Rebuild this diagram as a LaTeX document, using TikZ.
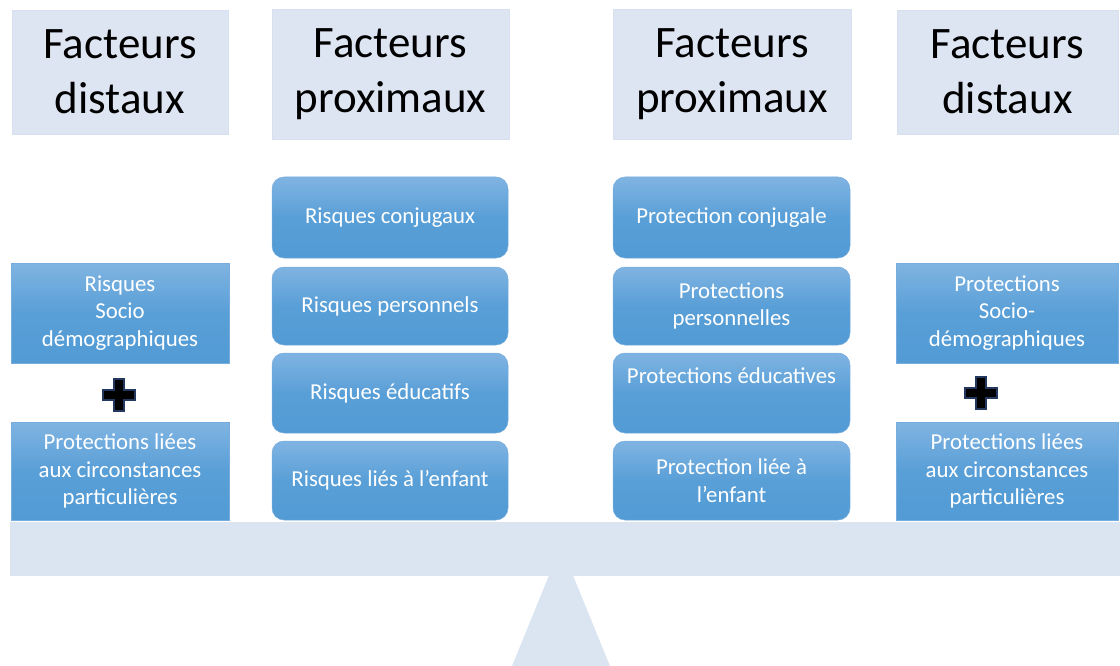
\documentclass[tikz,border=0pt]{standalone}
\usepackage{fontspec}
\setmainfont{Carlito}
\definecolor{headfill}{RGB}{222,229,242}
\definecolor{headline}{RGB}{214,224,240}
\definecolor{beamfill}{RGB}{219,229,241}
\definecolor{btop}{RGB}{128,180,226}
\definecolor{bbot}{RGB}{82,155,213}
\definecolor{bline}{RGB}{118,172,222}
\definecolor{plusline}{RGB}{35,55,95}
\tikzset{
  header/.style={fill=headfill, draw=headline, line width=0.6pt, inner sep=0pt,
    align=center, font=\fontsize{45}{55}\selectfont, text=black},
  bluebox/.style={top color=btop, bottom color=bbot, middle color=bbot!85!btop,
    draw=bline, line width=0.5pt, inner sep=0pt, align=center,
    font=\fontsize{22.8}{27.4}\selectfont, text=white},
  roundbox/.style={bluebox, rounded corners=12pt},
  plussign/.style={fill=black, draw=plusline, line width=1.6pt, line join=miter},
  scalepart/.style={fill=beamfill, draw=none}
}
\begin{document}
\begin{tikzpicture}[x=1pt,y=-1pt]
\useasboundingbox (0,0) rectangle (1120,666);
% fulcrum and beam
\fill[scalepart] (512,666) -- (561,546) -- (610,666) -- cycle;
\node[scalepart, minimum width=1110pt, minimum height=54pt, inner sep=0pt] (beam) at (565,549) {};
% headers
\node[header, minimum width=216pt, minimum height=124pt] (h1) at (120,72) {Facteurs\\distaux};
\node[header, minimum width=237pt, minimum height=130pt] (h2) at (390.5,74) {Facteurs\\proximaux};
\node[header, minimum width=238pt, minimum height=130pt] (h3) at (732,74) {Facteurs\\proximaux};
\node[header, minimum width=221pt, minimum height=124pt] (h4) at (1007.5,72) {Facteurs\\distaux};
% left distal
\node[bluebox, minimum width=218pt, minimum height=100pt] (l1) at (120,313) {Risques\\Socio\\démographiques};
\node[bluebox, minimum width=218pt, minimum height=98pt] (l2) at (120,471) {Protections liées\\aux circonstances\\particulières};
% right distal
\node[bluebox, minimum width=222pt, minimum height=100pt] (r1) at (1007,313) {Protections\\Socio-\\démographiques};
\node[bluebox, minimum width=222pt, minimum height=98pt] (r2) at (1007,471) {Protections liées\\aux circonstances\\particulières};
% left proximal
\node[roundbox, minimum width=236pt, minimum height=81pt] (a1) at (390,217.5) {Risques conjugaux};
\node[roundbox, minimum width=236pt, minimum height=78pt] (a2) at (390,306) {Risques personnels};
\node[roundbox, minimum width=236pt, minimum height=80pt] (a3) at (390,393) {Risques éducatifs};
\node[roundbox, minimum width=236pt, minimum height=79pt] (a4) at (390,480.5) {Risques liés à l’enfant};
% right proximal
\node[roundbox, minimum width=237pt, minimum height=81pt] (b1) at (731.5,217.5) {Protection conjugale};
\node[roundbox, minimum width=237pt, minimum height=78pt] (b2) at (731.5,306) {Protections\\personnelles};
\node[roundbox, minimum width=237pt, minimum height=80pt] (b3) at (731.5,393) {};
\node[font=\fontsize{22.8}{27.4}\selectfont, text=white, inner sep=0pt] (b3t) at (731.5,376) {Protections éducatives};
\node[roundbox, minimum width=237pt, minimum height=79pt] (b4) at (731.5,480.5) {Protection liée à\\l’enfant};
% plus signs
\draw[plussign] (114,379) -- (124,379) -- (124,390) -- (135,390) -- (135,400) -- (124,400) -- (124,411) -- (114,411) -- (114,400) -- (103,400) -- (103,390) -- (114,390) -- cycle;
\draw[plussign] (976,377) -- (986,377) -- (986,388) -- (997,388) -- (997,398) -- (986,398) -- (986,409) -- (976,409) -- (976,398) -- (965,398) -- (965,388) -- (976,388) -- cycle;
\end{tikzpicture}
\end{document}
